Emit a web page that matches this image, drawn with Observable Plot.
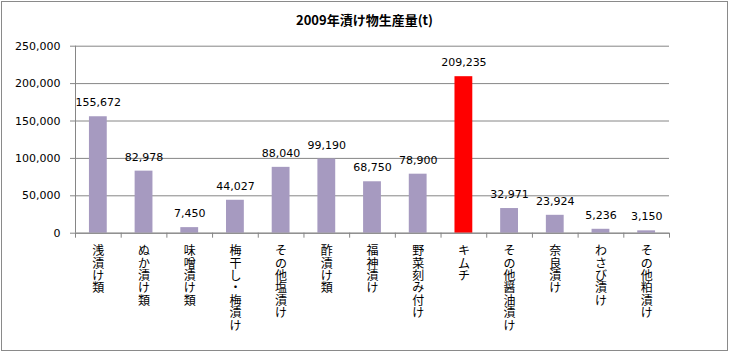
<!DOCTYPE html>
<html>
<head>
<meta charset="utf-8">
<script src="https://cdn.jsdelivr.net/npm/d3@7"></script>
<script src="https://cdn.jsdelivr.net/npm/@observablehq/plot@0.6"></script>
<style>
  body { margin: 0; background: #fff; }
  #wrap { position: relative; width: 731px; height: 352px; overflow: hidden; }
  #border { position: absolute; left: 1px; top: 1px; width: 725px; height: 348px; border: 1px solid #8a8a8a; pointer-events: none; }
  #title { position: absolute; left: 0; width: 729px; top: 10px; text-align: center; font: bold 13px "Noto Sans CJK JP", sans-serif; color: #000; }
  #chart { position: absolute; left: 0; top: 0; }
</style>
</head>
<body>
<div id="wrap">
  <div id="chart"></div>
  <div id="title">2009年漬け物生産量(t)</div>
  <div id="border"></div>
</div>
<script>
const categories = ["浅漬け類","ぬか漬け類","味噌漬け類","梅干し・梅漬け","その他塩漬け","酢漬け類","福神漬け","野菜刻み付け","キムチ","その他醤油漬け","奈良漬け","わさび漬け","その他粕漬け"];
const values = [155672, 82978, 7450, 44027, 88040, 99190, 68750, 78900, 209235, 32971, 23924, 5236, 3150];
const highlight = "キムチ";
const yTicks = [0, 50000, 100000, 150000, 200000, 250000];

const data = categories.map((c, i) => ({category: c, value: values[i]}));

const W = 731, H = 352, mL = 75, mR = 62, mT = 45.7, mB = 119.3;
const step = (W - mL - mR) / categories.length;
const gray = "#868686";

const chart = Plot.plot({
  width: W, height: H,
  marginLeft: mL, marginRight: mR, marginTop: mT, marginBottom: mB,
  style: {background: "transparent", overflow: "visible"},
  x: {domain: categories, paddingInner: 0.61, paddingOuter: 0.305, round: false, label: null},
  y: {domain: [0, 250000], label: null},
  marks: [
    Plot.gridY(yTicks, {stroke: gray, strokeOpacity: 1}),
    Plot.axisY(yTicks, {tickSize: 5, tickPadding: 10, tickFormat: d3.format(","), fontSize: 11, fontFamily: "DejaVu Sans", stroke: gray, fill: "#000", label: null}),
    Plot.tickX([categories[0]], {x: d => d, dx: -step / 2, stroke: gray}),
    Plot.barY(data, {x: "category", y: "value", fill: d => d.category === highlight ? "#ff0000" : "#a69ac0"}),
    Plot.ruleY([0], {stroke: gray}),
    Plot.text(data, {x: "category", y: "value", text: d => d3.format(",")(d.value), dy: -14, fontSize: 11, fontFamily: "DejaVu Sans", fill: "#000"}),
    Plot.axisX(categories, {tickSize: 5, dx: -step / 2, tickFormat: () => "", stroke: gray, label: null}),
    Plot.axisX([categories[categories.length - 1]], {tickSize: 5, dx: step / 2, tickFormat: () => "", stroke: gray, label: null}),
    Plot.axisX(categories, {tickSize: 0, tickPadding: 13, tickFormat: s => [...s].join("\n"), lineAnchor: "top", lineHeight: 1.04, fontSize: 12, fontFamily: "Noto Sans CJK JP", fill: "#000", label: null})
  ]
});
document.getElementById("chart").appendChild(chart);
</script>
</body>
</html>
